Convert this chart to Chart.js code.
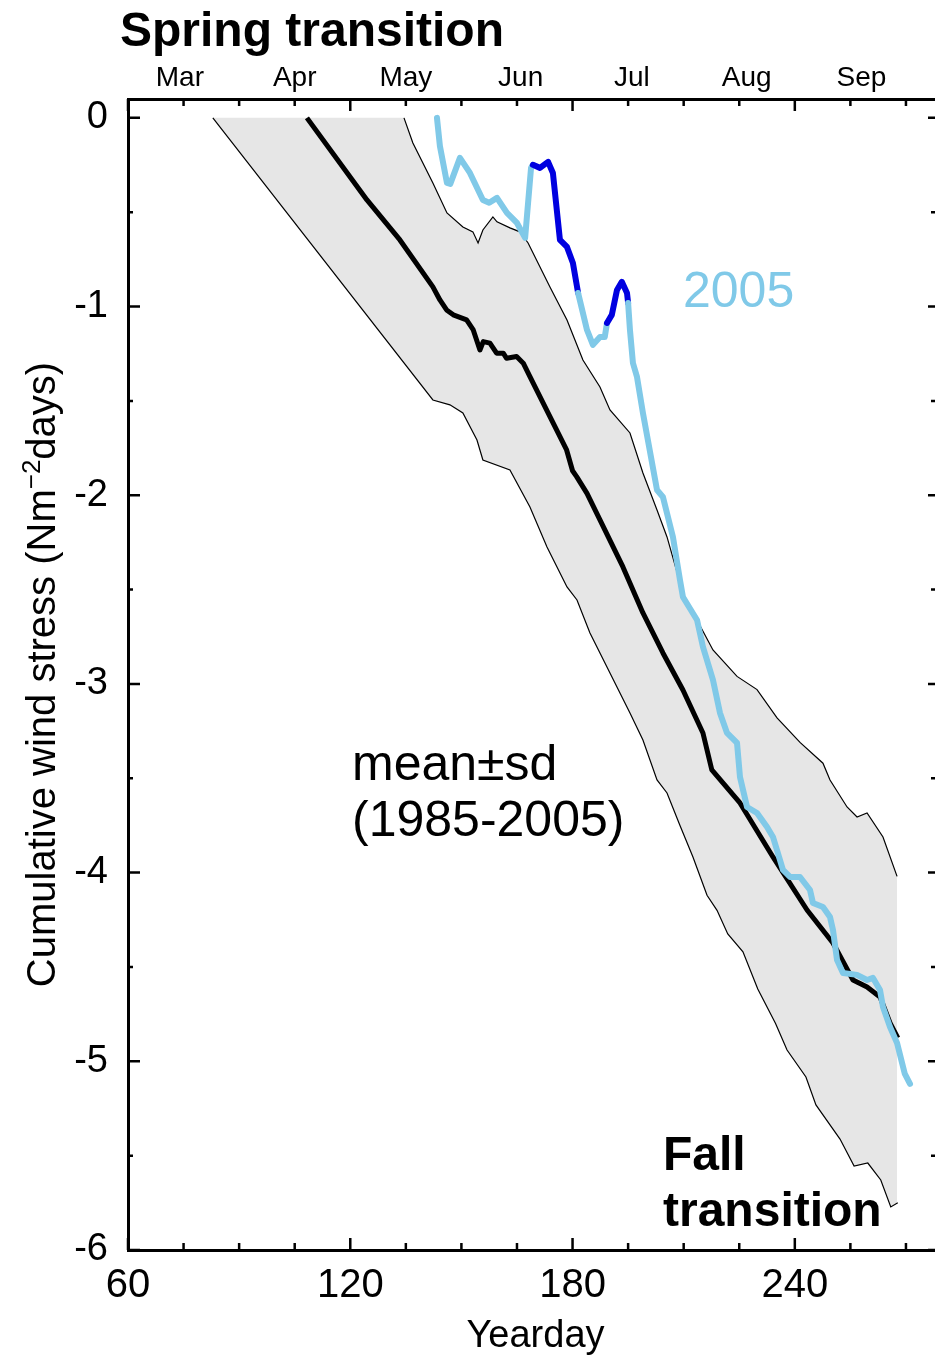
<!DOCTYPE html>
<html>
<head>
<meta charset="utf-8">
<script src="https://cdn.jsdelivr.net/npm/chart.js@4.4.1/dist/chart.umd.min.js"></script>
<style>
  html, body { margin: 0; padding: 0; background: #fff; overflow: hidden; }
  #wrap { width: 950px; height: 1359px; }
</style>
</head>
<body>
<div id="wrap"><canvas id="windChart" width="950" height="1359"></canvas></div>
<script>
const FONT = "'Liberation Sans', Arial, Helvetica, sans-serif";
Chart.defaults.font.family = FONT;
Chart.defaults.color = '#000';

const LIGHT_BLUE = '#80c9e8';
const DARK_BLUE = '#0000e0';
const BAND_GREY = '#e6e6e6';

// ── Data (yearday, cumulative wind stress) ───────────────────
const meanDays = [108.3, 124.5, 133.4, 142.3, 144.2, 146.0, 147.8, 151.4, 153.2, 155.0, 155.9, 157.7,
  159.5, 161.3, 162.2, 164.9, 166.7, 168.5, 173.9, 178.4, 180.0, 181.1, 183.9, 187.4, 193.6, 199.0,
  204.4, 209.8, 215.2, 217.6, 225.2, 234.1, 243.3, 250.3, 255.7, 259.5, 263.0, 265.7, 267.8];
const meanVals = [0, -0.435, -0.647, -0.896, -0.965, -1.018, -1.044, -1.071, -1.124, -1.230, -1.186, -1.194,
  -1.247, -1.247, -1.274, -1.265, -1.300, -1.371, -1.583, -1.760, -1.870, -1.901, -1.990, -2.131, -2.380, -2.624,
  -2.836, -3.032, -3.260, -3.456, -3.631, -3.917, -4.198, -4.373, -4.569, -4.606, -4.659, -4.797, -4.876];

const upperDays = [82.9, 134.5, 136.9, 142.3, 146.1, 150.4, 153.1, 154.5, 155.8, 158.5, 159.6, 163.1,
  165.8, 168.0, 173.9, 178.5, 182.8, 187.4, 190.1, 195.5, 199.0, 202.8, 205.5, 209.8, 213.6, 217.9,
  224.4, 229.8, 235.2, 241.4, 247.6, 249.5, 254.1, 256.8, 259.5, 263.8, 267.6];
const upperVals = [0, 0, -0.133, -0.345, -0.504, -0.578, -0.604, -0.663, -0.594, -0.525, -0.551, -0.583,
  -0.604, -0.663, -0.896, -1.071, -1.283, -1.426, -1.548, -1.670, -1.882, -2.078, -2.221, -2.518, -2.661, -2.820,
  -2.960, -3.030, -3.180, -3.310, -3.420, -3.509, -3.652, -3.705, -3.684, -3.811, -4.020];

const lowerDays = [82.9, 142.3, 146.9, 150.4, 154.2, 155.8, 163.1, 168.5, 173.1, 178.5, 181.2, 184.7,
  190.1, 195.5, 199.0, 202.8, 205.5, 209.0, 212.5, 216.3, 219.0, 221.9, 226.0, 230.0, 234.8, 237.9,
  243.0, 245.7, 252.2, 256.0, 259.7, 263.2, 265.9, 267.8];
const lowerVals = [0, -1.495, -1.521, -1.564, -1.707, -1.813, -1.866, -2.062, -2.274, -2.486, -2.555, -2.730,
  -2.942, -3.154, -3.297, -3.509, -3.578, -3.750, -3.917, -4.120, -4.200, -4.325, -4.420, -4.617, -4.800, -4.940,
  -5.083, -5.231, -5.412, -5.555, -5.539, -5.629, -5.772, -5.750];

const days2005 = [143.4, 144.2, 146.1, 147.0, 149.6, 152.3, 155.8, 157.5, 159.6, 162.3, 165.0, 167.2,
  168.8, 169.3, 171.2, 173.4, 174.7, 176.6, 178.5, 180.1, 181.5, 183.9, 185.5, 187.4, 188.7, 189.3,
  190.6, 192.0, 193.3, 194.7, 195.0, 195.5, 196.3, 197.4, 199.0, 202.8, 204.4, 207.1, 209.0, 209.8,
  213.6, 215.2, 217.9, 219.8, 221.7, 224.4, 225.2, 227.1, 229.8, 232.5, 234.1, 236.8, 238.7, 241.4,
  244.1, 244.9, 247.6, 249.5, 250.3, 251.4, 253.0, 256.8, 259.5, 261.1, 263.0, 263.8, 265.7, 267.6,
  269.7, 271.1];
const vals2005 = [0, -0.150, -0.345, -0.350, -0.212, -0.292, -0.435, -0.450, -0.424, -0.504, -0.557, -0.636,
  -0.265, -0.249, -0.265, -0.233, -0.292, -0.647, -0.684, -0.769, -0.928, -1.124, -1.203, -1.161, -1.161, -1.087,
  -1.044, -0.912, -0.869, -0.928, -0.981, -1.124, -1.299, -1.373, -1.564, -1.972, -2.009, -2.221, -2.449, -2.539,
  -2.661, -2.804, -2.979, -3.154, -3.260, -3.313, -3.493, -3.652, -3.684, -3.758, -3.811, -3.986, -4.023, -4.023,
  -4.092, -4.161, -4.182, -4.235, -4.304, -4.463, -4.532, -4.542, -4.569, -4.558, -4.622, -4.712, -4.818, -4.903,
  -5.067, -5.120];

// upwelling spells in 2005 drawn in dark blue
const darkSpans = [[169.2, 181.6], [189.2, 195.1]];

const xLabelTicks = [60, 120, 180, 240];
const monthLabels = ['Mar', 'Apr', 'May', 'Jun', 'Jul', 'Aug', 'Sep'];
const monthMidDays = [74, 105, 135, 166, 196, 227, 258];
const yLabelTicks = [-6, -5, -4, -3, -2, -1, 0];

// ── Helpers ─────────────────────────────────────────────────
const toPoints = (days, vals) => days.map((d, i) => ({ x: d, y: vals[i] }));

function inDarkSpan(x0, x1) {
  return darkSpans.some(([a, b]) => x0 >= a && x1 <= b);
}

// inward tick marks on all four sides
const tickMarks = {
  id: 'tickMarks',
  afterDraw(chart) {
    const { ctx, chartArea: a, scales: { x, y } } = chart;
    ctx.save();
    ctx.strokeStyle = '#000';
    ctx.lineWidth = 2.5;
    ctx.beginPath();
    for (let d = 60; d <= 280; d += 15) {
      const px = x.getPixelForValue(d);
      const len = d % 60 === 0 ? 12 : 7;
      ctx.moveTo(px, a.bottom); ctx.lineTo(px, a.bottom - len);
      ctx.moveTo(px, a.top); ctx.lineTo(px, a.top + len);
    }
    for (let v = -6; v <= 0; v += 0.5) {
      const py = y.getPixelForValue(v);
      const major = Number.isInteger(v);
      ctx.moveTo(a.left, py); ctx.lineTo(a.left + (major ? 12 : 5), py);
      ctx.moveTo(a.right, py); ctx.lineTo(a.right - (major ? 15 : 12), py);
    }
    ctx.moveTo(a.right, a.top); ctx.lineTo(a.right, a.bottom);
    ctx.stroke();
    ctx.restore();
  }
};

// annotations and y-axis title with superscript
const notes = {
  id: 'notes',
  afterDraw(chart) {
    const { ctx, chartArea: a } = chart;
    ctx.save();
    ctx.textAlign = 'left';
    ctx.textBaseline = 'alphabetic';
    ctx.fillStyle = '#000';
    ctx.font = 'bold 48px ' + FONT;
    ctx.fillText('Spring transition', 120, 46);
    ctx.fillText('Fall', 663, 1170);
    ctx.fillText('transition', 663, 1226);
    ctx.font = '50px ' + FONT;
    ctx.fillText('mean\u00B1sd', 352, 780);
    ctx.fillText('(1985-2005)', 352, 836);
    ctx.fillStyle = LIGHT_BLUE;
    ctx.fillText('2005', 683, 307);

    // rotated y title
    const parts = [
      { t: 'Cumulative wind stress (Nm', size: 40, dy: 0 },
      { t: '\u22122', size: 26, dy: -15 },
      { t: 'days)', size: 40, dy: 0 }
    ];
    let total = 0;
    parts.forEach(p => { ctx.font = p.size + 'px ' + FONT; p.w = ctx.measureText(p.t).width; total += p.w; });
    ctx.translate(55, (a.top + a.bottom) / 2);
    ctx.rotate(-Math.PI / 2);
    ctx.fillStyle = '#000';
    let cx = -total / 2;
    parts.forEach(p => { ctx.font = p.size + 'px ' + FONT; ctx.fillText(p.t, cx, p.dy); cx += p.w; });
    ctx.restore();
  }
};

// ── Chart ───────────────────────────────────────────────────
new Chart(document.getElementById('windChart'), {
  type: 'line',
  data: {
    datasets: [
      { label: '2005', data: toPoints(days2005, vals2005), order: 0,
        borderColor: LIGHT_BLUE, borderWidth: 6, borderCapStyle: 'round', borderJoinStyle: 'round',
        pointRadius: 0, tension: 0,
        segment: { borderColor: c => inDarkSpan(c.p0.parsed.x, c.p1.parsed.x) ? DARK_BLUE : undefined } },
      { label: 'mean', data: toPoints(meanDays, meanVals), order: 1,
        borderColor: '#000', borderWidth: 5, borderJoinStyle: 'round', pointRadius: 0, tension: 0 },
      { label: 'mean-sd', data: toPoints(lowerDays, lowerVals), order: 2,
        borderColor: '#000', borderWidth: 1.2, pointRadius: 0, tension: 0 },
      { label: 'mean+sd', data: toPoints(upperDays, upperVals), order: 3,
        borderColor: '#000', borderWidth: 1.2, pointRadius: 0, tension: 0,
        fill: '-1', backgroundColor: BAND_GREY,
        segment: { borderColor: c => (c.p0.parsed.y === 0 && c.p1.parsed.y === 0) ? 'rgba(0,0,0,0)' : undefined } }
    ]
  },
  options: {
    responsive: false,
    animation: false,
    parsing: true,
    layout: { padding: { right: 7, left: 0, top: 0, bottom: 0 } },
    plugins: { legend: { display: false }, tooltip: { enabled: false }, filler: { propagate: false } },
    scales: {
      x: {
        type: 'linear', position: 'bottom', min: 60, max: 280,
        afterBuildTicks: s => { s.ticks = xLabelTicks.map(v => ({ value: v })); },
        afterFit: s => { s.height = 109; },
        grid: { display: false, drawTicks: false },
        border: { display: true, color: '#000', width: 3 },
        ticks: { color: '#000', font: { size: 40 }, padding: 12, maxRotation: 0, autoSkip: false },
        title: { display: true, text: 'Yearday', color: '#000', font: { size: 38 }, padding: 0 }
      },
      xTop: {
        type: 'linear', position: 'top', min: 60, max: 280,
        afterBuildTicks: s => { s.ticks = monthMidDays.map(v => ({ value: v })); },
        afterFit: s => { s.height = 99; },
        grid: { display: false, drawTicks: false },
        border: { display: true, color: '#000', width: 3 },
        ticks: { color: '#000', font: { size: 28 }, padding: 4, maxRotation: 0, autoSkip: false,
          callback: (v, i) => monthLabels[i] }
      },
      y: {
        type: 'linear', position: 'left', min: -6, max: 0.1,
        afterBuildTicks: s => { s.ticks = yLabelTicks.map(v => ({ value: v })); },
        afterFit: s => { s.width = 128; },
        grid: { display: false, drawTicks: false },
        border: { display: true, color: '#000', width: 3 },
        ticks: { color: '#000', font: { size: 38 }, padding: 20, autoSkip: false,
          callback: v => v === 0 ? '0' : '-' + Math.abs(v) }
      }
    }
  },
  plugins: [tickMarks, notes]
});
</script>
</body>
</html>
